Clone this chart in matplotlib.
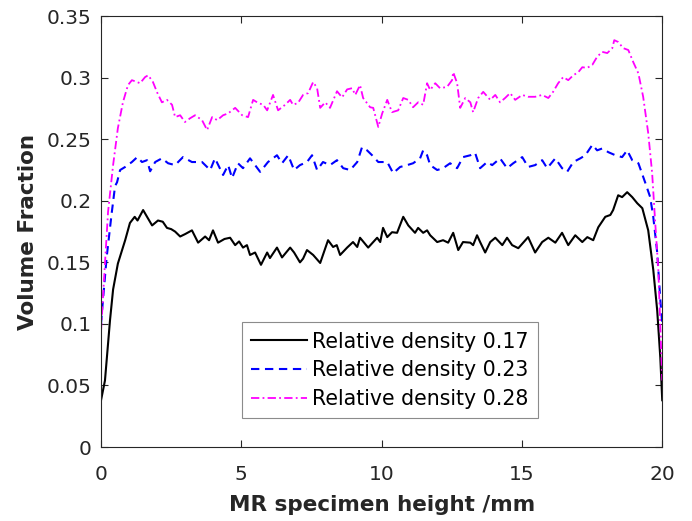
import matplotlib
matplotlib.use("Agg")
import matplotlib.pyplot as plt
from matplotlib.ticker import FormatStrFormatter

plt.rcParams['font.family'] = ['DejaVu Sans']

# Relative density 0.17 (solid black)
h17 = [0, 0.14, 0.32, 0.43, 0.6, 0.86, 1.03, 1.2, 1.3, 1.5, 1.64, 1.82, 2.03, 2.2, 2.35, 2.5, 2.64, 2.82,
       3.0, 3.24, 3.46, 3.71, 3.85, 3.99, 4.17, 4.4, 4.6, 4.78, 4.92, 5.06, 5.2, 5.31, 5.49, 5.70, 5.92, 6.02,
       6.27, 6.45, 6.74, 6.88, 7.09, 7.2, 7.34, 7.56, 7.81, 8.09, 8.27, 8.4, 8.52, 8.77, 8.98, 9.13, 9.23,
       9.52, 9.84, 9.95, 10.05, 10.2, 10.37, 10.55, 10.77, 10.95, 11.19, 11.3, 11.48, 11.62, 11.73, 11.98,
       12.19, 12.37, 12.55, 12.73, 12.9, 13.16, 13.26, 13.4, 13.51, 13.69, 13.87, 14.05, 14.3, 14.47, 14.65,
       14.87, 15.22, 15.47, 15.72, 15.94, 16.19, 16.43, 16.65, 16.9, 17.15, 17.33, 17.54, 17.72, 17.97,
       18.15, 18.25, 18.43, 18.57, 18.75, 18.93, 19.11, 19.29, 19.5, 19.68, 19.82, 19.93, 20]
vf17 = [0.038, 0.054, 0.103, 0.128, 0.149, 0.168, 0.182, 0.187, 0.184, 0.1925, 0.187, 0.180, 0.184, 0.183,
        0.178, 0.177, 0.175, 0.171, 0.173, 0.176, 0.166, 0.171, 0.168, 0.176, 0.166, 0.169, 0.170, 0.164,
        0.167, 0.162, 0.164, 0.156, 0.158, 0.148, 0.158, 0.1535, 0.162, 0.154, 0.162, 0.158, 0.150, 0.153,
        0.160, 0.156, 0.1495, 0.168, 0.1625, 0.164, 0.156, 0.162, 0.1665, 0.1625, 0.170, 0.162, 0.170,
        0.1665, 0.178, 0.1705, 0.1745, 0.174, 0.187, 0.180, 0.174, 0.178, 0.174, 0.176, 0.172, 0.1665,
        0.168, 0.166, 0.174, 0.160, 0.1665, 0.166, 0.164, 0.172, 0.1665, 0.158, 0.1665, 0.170, 0.164,
        0.170, 0.164, 0.1615, 0.1705, 0.158, 0.1665, 0.170, 0.166, 0.174, 0.164, 0.172, 0.1665, 0.1705,
        0.168, 0.1785, 0.187, 0.1885, 0.1925, 0.2045, 0.203, 0.207, 0.203, 0.198, 0.194, 0.176, 0.144,
        0.111, 0.073, 0.038]

# Relative density 0.23 (dashed blue)
h23 = [0, 0.03, 0.2, 0.38, 0.5, 0.57, 0.68, 0.86, 1.1, 1.29, 1.46, 1.64, 1.75, 1.93, 2.17, 2.39, 2.64,
       2.92, 3.24, 3.6, 3.89, 4.06, 4.35, 4.53, 4.67, 4.88, 5.06, 5.31, 5.67, 5.95, 6.27, 6.45, 6.67, 6.88,
       7.09, 7.34, 7.52, 7.7, 7.91, 8.16, 8.41, 8.63, 8.88, 9.13, 9.3, 9.48, 9.66, 9.88, 10.2, 10.41,
       10.66, 10.91, 11.12, 11.37, 11.48, 11.62, 11.73, 11.98, 12.19, 12.44, 12.69, 12.9, 13.16, 13.33,
       13.51, 13.76, 13.94, 14.22, 14.47, 14.69, 15.01, 15.22, 15.47, 15.72, 15.9, 16.19, 16.43, 16.61,
       16.83, 17.08, 17.26, 17.51, 17.68, 17.86, 18.08, 18.33, 18.57, 18.75, 18.93, 19.15, 19.39, 19.57,
       19.68, 19.82, 19.93, 20]
vf23 = [0.100, 0.109, 0.154, 0.19, 0.212, 0.215, 0.225, 0.2275, 0.2315, 0.2355, 0.2315, 0.233, 0.224,
        0.2315, 0.2345, 0.2305, 0.229, 0.2355, 0.2315, 0.2315, 0.225, 0.2345, 0.221, 0.229, 0.2185, 0.2305,
        0.2265, 0.2345, 0.2235, 0.2315, 0.237, 0.2305, 0.237, 0.225, 0.229, 0.2315, 0.237, 0.225, 0.2315,
        0.229, 0.233, 0.2265, 0.225, 0.2315, 0.2435, 0.241, 0.237, 0.2315, 0.2315, 0.2225, 0.2275, 0.229,
        0.2305, 0.2345, 0.241, 0.237, 0.229, 0.225, 0.2265, 0.2305, 0.2265, 0.2355, 0.237, 0.239, 0.2265,
        0.2315, 0.229, 0.2345, 0.2265, 0.2305, 0.2355, 0.2275, 0.229, 0.233, 0.2265, 0.2345, 0.2265,
        0.2235, 0.2315, 0.2345, 0.237, 0.2455, 0.241, 0.2425, 0.2395, 0.237, 0.2355, 0.241, 0.233, 0.2305,
        0.215, 0.203, 0.187, 0.158, 0.12, 0.100]

# Relative density 0.28 (dash-dot magenta)
h28 = [0, 0.14, 0.25, 0.43, 0.6, 0.78, 0.96, 1.1, 1.28, 1.39, 1.57, 1.68, 1.85, 2.0, 2.17, 2.35, 2.53,
       2.64, 2.82, 2.99, 3.17, 3.35, 3.6, 3.78, 3.96, 4.14, 4.35, 4.53, 4.78, 5.03, 5.24, 5.42, 5.6, 5.78,
       5.92, 6.13, 6.31, 6.56, 6.74, 6.84, 7.02, 7.2, 7.38, 7.56, 7.7, 7.81, 7.99, 8.16, 8.41, 8.59, 8.77,
       8.95, 9.06, 9.23, 9.34, 9.59, 9.7, 9.88, 10.02, 10.2, 10.37, 10.59, 10.77, 10.95, 11.12, 11.3,
       11.48, 11.62, 11.73, 11.91, 12.08, 12.33, 12.51, 12.55, 12.69, 12.8, 12.98, 13.16, 13.26, 13.44,
       13.62, 13.87, 14.05, 14.22, 14.4, 14.58, 14.76, 15.01, 15.22, 15.47, 15.72, 15.94, 16.11, 16.29,
       16.47, 16.65, 16.83, 17.01, 17.15, 17.33, 17.51, 17.68, 17.86, 18.04, 18.22, 18.29, 18.43, 18.61,
       18.79, 18.97, 19.15, 19.32, 19.5, 19.64, 19.75, 19.86, 20]
vf28 = [0.094, 0.149, 0.191, 0.229, 0.259, 0.280, 0.294, 0.298, 0.2965, 0.2955, 0.3005, 0.302, 0.2965,
        0.288, 0.280, 0.282, 0.278, 0.268, 0.2695, 0.264, 0.267, 0.2695, 0.2655, 0.2575, 0.268, 0.2655,
        0.2695, 0.271, 0.2755, 0.2695, 0.268, 0.282, 0.2795, 0.278, 0.2735, 0.286, 0.2735, 0.278, 0.282,
        0.278, 0.2795, 0.286, 0.2875, 0.2965, 0.2915, 0.2755, 0.280, 0.2755, 0.289, 0.284, 0.2905, 0.2915,
        0.286, 0.294, 0.2835, 0.276, 0.2755, 0.260, 0.271, 0.282, 0.272, 0.2735, 0.2835, 0.282, 0.276,
        0.280, 0.278, 0.2955, 0.290, 0.2955, 0.2915, 0.2925, 0.298, 0.3045, 0.2955, 0.2755, 0.2835, 0.280,
        0.272, 0.2835, 0.2885, 0.282, 0.286, 0.280, 0.2835, 0.2875, 0.282, 0.286, 0.2845, 0.2845, 0.286,
        0.2835, 0.2885, 0.2955, 0.3005, 0.298, 0.302, 0.3045, 0.3085, 0.308, 0.3105, 0.317, 0.321, 0.320,
        0.324, 0.3305, 0.329, 0.324, 0.3225, 0.3125, 0.3035, 0.2845, 0.255, 0.2225, 0.182, 0.144, 0.054]

labels = ["Relative density 0.17", "Relative density 0.23", "Relative density 0.28"]

fig = plt.figure(figsize=(6.92, 5.21), dpi=100)
ax = fig.add_axes([0.146, 0.142, 0.811, 0.827])

ax.plot(h17, vf17, color="black", lw=1.5, label=labels[0])
ax.plot(h23, vf23, color="blue", lw=1.5, ls=(0, (4, 2.7)), label=labels[1])
ax.plot(h28, vf28, color="magenta", lw=1.3, ls=(0, (4.6, 1.8, 1, 1.8)), label=labels[2])

ax.set_xlim(0, 20)
ax.set_ylim(0, 0.35)
ax.set_xticks([0, 5, 10, 15, 20])
ax.set_yticks([0, 0.05, 0.1, 0.15, 0.2, 0.25, 0.3, 0.35])
ax.yaxis.set_major_formatter(FormatStrFormatter('%g'))
ax.tick_params(direction='in', top=True, right=True, length=5, width=0.8,
               labelsize=14.5, colors='#262626')
ax.tick_params(axis='x', pad=13)
ax.tick_params(axis='y', pad=7)
for s in ax.spines.values():
    s.set_color('#262626')
    s.set_linewidth(0.8)

ax.set_xlabel("MR specimen height /mm", fontsize=15.5, fontweight='bold', color='#262626', labelpad=8)
ax.set_ylabel("Volume Fraction", fontsize=15.5, fontweight='bold', color='#262626', labelpad=6)

leg = ax.legend(loc='lower left', bbox_to_anchor=(0.251, 0.067), fontsize=14.8, frameon=True,
                fancybox=False, edgecolor='#6e6e6e', handlelength=2.7, handletextpad=0.25,
                borderpad=0.45, labelspacing=0.42, borderaxespad=0)
leg.get_frame().set_linewidth(0.8)

fig.savefig("out.png", dpi=100)
